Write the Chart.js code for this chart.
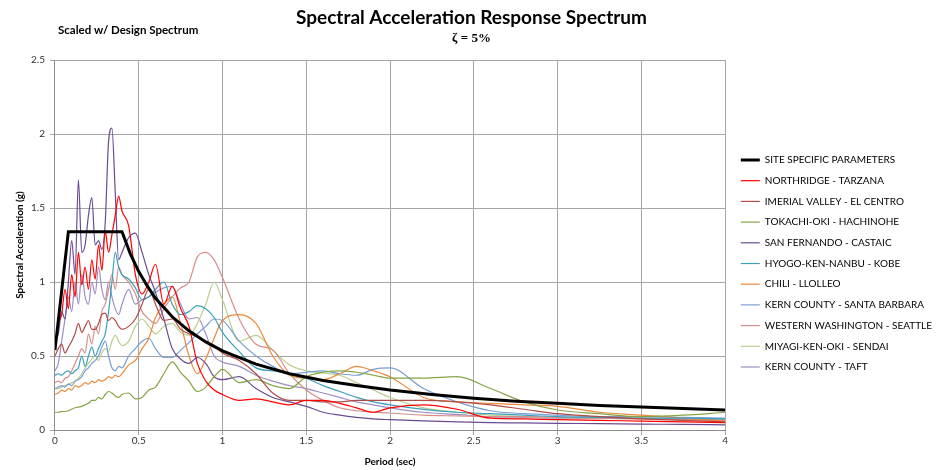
<!DOCTYPE html>
<html>
<head>
<meta charset="utf-8">
<style>
  html, body { margin: 0; padding: 0; background: #ffffff; }
  #wrap { width: 944px; height: 470px; }
</style>
<script src="https://cdn.jsdelivr.net/npm/chart.js@4.4.1/dist/chart.umd.min.js"></script>
</head>
<body>
<div id="wrap"><canvas id="spectrum-chart"></canvas></div>
<script>
// design (site specific) spectrum
const designPeriods = [0, 0.08, 0.40, 0.45, 0.50, 0.55, 0.60, 0.70, 0.80, 0.90, 1.00, 1.20, 1.40, 1.60, 1.80, 2.00, 2.25, 2.50, 2.75, 3.00, 3.25, 3.50, 3.75, 4.00];
const designSa = [0.54, 1.34, 1.34, 1.19, 1.07, 0.975, 0.89, 0.765, 0.67, 0.595, 0.535, 0.445, 0.38, 0.335, 0.30, 0.27, 0.24, 0.215, 0.195, 0.18, 0.165, 0.155, 0.145, 0.135];

// periods shared by the scaled records
const periods = [
  0, 0.02, 0.04, 0.06, 0.08, 0.10, 0.12, 0.14, 0.16, 0.18,
  0.20, 0.22, 0.24, 0.26, 0.28, 0.30, 0.32, 0.34, 0.36, 0.38,
  0.40, 0.44, 0.48, 0.52, 0.56, 0.60, 0.65, 0.70, 0.75, 0.80,
  0.85, 0.90, 0.95, 1.00, 1.10, 1.20, 1.30, 1.40, 1.50, 1.60,
  1.70, 1.80, 1.90, 2.00, 2.20, 2.40, 2.60, 2.80, 3.00, 3.25,
  3.50, 3.75, 4.00
];

const northridge = [
  0.55, 0.72, 0.78, 0.95, 0.82, 1.05, 0.90, 1.20, 0.98, 1.10,
  0.95, 1.15, 1.02, 1.25, 1.08, 1.34, 1.20, 1.32, 1.45, 1.58,
  1.48, 1.38, 1.05, 0.92, 1.00, 1.12, 0.85, 0.97, 0.82, 0.70,
  0.45, 0.33, 0.27, 0.24, 0.20, 0.21, 0.19, 0.17, 0.20, 0.20,
  0.18, 0.15, 0.12, 0.15, 0.17, 0.14, 0.08, 0.075, 0.07, 0.065,
  0.06, 0.055, 0.05
];
const imperialValley = [
  0.50, 0.55, 0.58, 0.52, 0.56, 0.60, 0.65, 0.72, 0.66, 0.70,
  0.74, 0.68, 0.68, 0.72, 0.78, 0.79, 0.74, 0.76, 0.74, 0.70,
  0.68, 0.70, 0.75, 0.85, 0.95, 0.85, 0.74, 0.75, 0.68, 0.65,
  0.63, 0.60, 0.57, 0.52, 0.47, 0.38, 0.25, 0.20, 0.20, 0.19,
  0.19, 0.20, 0.20, 0.20, 0.20, 0.19, 0.17, 0.14, 0.11, 0.09,
  0.075, 0.065, 0.055
];
const tokachiOki = [
  0.12, 0.12, 0.125, 0.125, 0.13, 0.14, 0.15, 0.155, 0.16, 0.17,
  0.18, 0.20, 0.20, 0.22, 0.21, 0.24, 0.26, 0.25, 0.23, 0.22,
  0.24, 0.25, 0.21, 0.22, 0.27, 0.29, 0.38, 0.46, 0.39, 0.33,
  0.26, 0.29, 0.36, 0.41, 0.32, 0.34, 0.30, 0.28, 0.36, 0.39,
  0.40, 0.39, 0.37, 0.35, 0.35, 0.36, 0.28, 0.19, 0.135, 0.11,
  0.09, 0.10, 0.12
];
const sanFernando = [
  0.60, 0.65, 0.80, 0.75, 1.00, 1.28, 1.05, 1.69, 1.20, 1.25,
  1.45, 1.57, 1.25, 1.28, 1.22, 1.40, 1.95, 2.04, 1.60, 1.15,
  1.20, 1.30, 1.33, 1.20, 1.05, 0.93, 0.75, 0.55, 0.48, 0.45,
  0.49, 0.45, 0.36, 0.34, 0.36, 0.28, 0.22, 0.19, 0.16, 0.12,
  0.10, 0.085, 0.075, 0.07, 0.062, 0.055, 0.05, 0.048, 0.045, 0.043,
  0.04, 0.038, 0.035
];
const hyogoKenNanbu = [
  0.37, 0.38, 0.37, 0.39, 0.40, 0.38, 0.40, 0.42, 0.50, 0.43,
  0.50, 0.56, 0.50, 0.55, 0.60, 0.65, 0.80, 1.00, 1.20, 1.10,
  1.05, 1.02, 0.96, 0.88, 0.90, 0.95, 1.00, 0.85, 0.78, 0.80,
  0.84, 0.82, 0.76, 0.66, 0.53, 0.42, 0.40, 0.38, 0.35, 0.30,
  0.26, 0.22, 0.19, 0.17, 0.14, 0.12, 0.11, 0.10, 0.09, 0.085,
  0.08, 0.08, 0.075
];
const chiliLlolleo = [
  0.24, 0.25, 0.27, 0.26, 0.28, 0.27, 0.30, 0.29, 0.30, 0.32,
  0.31, 0.33, 0.32, 0.34, 0.33, 0.34, 0.36, 0.35, 0.37, 0.36,
  0.38, 0.44, 0.47, 0.55, 0.62, 0.76, 0.85, 0.90, 0.72, 0.50,
  0.38, 0.48, 0.62, 0.74, 0.78, 0.72, 0.50, 0.37, 0.35, 0.34,
  0.38, 0.43, 0.40, 0.36, 0.22, 0.19, 0.18, 0.17, 0.16, 0.12,
  0.10, 0.08, 0.06
];
const kernSantaBarbara = [
  0.28, 0.29, 0.30, 0.29, 0.31, 0.30, 0.33, 0.34, 0.36, 0.40,
  0.42, 0.45, 0.47, 0.50, 0.56, 0.60, 0.50, 0.42, 0.40, 0.43,
  0.42, 0.50, 0.55, 0.60, 0.62, 0.55, 0.49, 0.49, 0.54, 0.59,
  0.65, 0.70, 0.75, 0.74, 0.60, 0.50, 0.43, 0.38, 0.39, 0.40,
  0.38, 0.37, 0.41, 0.42, 0.28, 0.19, 0.13, 0.11, 0.10, 0.09,
  0.09, 0.085, 0.08
];
const westernWashington = [
  0.32, 0.33, 0.32, 0.35, 0.36, 0.40, 0.45, 0.50, 0.55, 0.52,
  0.65, 0.58, 0.70, 0.65, 0.80, 0.85, 0.95, 1.05, 0.95, 1.10,
  1.05, 1.00, 0.92, 0.80, 0.75, 0.72, 0.82, 0.90, 0.96, 1.00,
  1.17, 1.20, 1.15, 1.03, 0.75, 0.58, 0.54, 0.38, 0.27, 0.20,
  0.15, 0.13, 0.12, 0.115, 0.10, 0.095, 0.09, 0.09, 0.085, 0.08,
  0.075, 0.07, 0.065
];
const miyagiKenOki = [
  0.28, 0.28, 0.29, 0.30, 0.31, 0.32, 0.33, 0.35, 0.38, 0.42,
  0.45, 0.48, 0.50, 0.47, 0.52, 0.55, 0.53, 0.60, 0.64, 0.60,
  0.57, 0.60, 0.70, 0.75, 0.70, 0.65, 0.70, 0.72, 0.66, 0.64,
  0.72, 0.85, 1.00, 0.88, 0.60, 0.64, 0.54, 0.44, 0.40, 0.385,
  0.37, 0.32, 0.27, 0.22, 0.15, 0.12, 0.10, 0.09, 0.085, 0.08,
  0.075, 0.07, 0.065
];
const kernTaft = [
  0.40, 0.45, 0.60, 0.75, 0.90, 0.80, 1.00, 0.85, 1.05, 0.90,
  0.85, 1.00, 0.92, 1.10, 0.95, 0.88, 1.00, 0.90, 0.82, 0.78,
  0.85, 0.95, 0.85, 0.88, 0.90, 0.93, 0.96, 0.97, 0.85, 0.75,
  0.76, 0.65, 0.50, 0.46, 0.43, 0.37, 0.33, 0.30, 0.28, 0.25,
  0.22, 0.19, 0.17, 0.15, 0.12, 0.105, 0.09, 0.085, 0.08, 0.08,
  0.078, 0.075, 0.07
];

const recordNames = [
  'NORTHRIDGE - TARZANA',
  'IMERIAL VALLEY - EL CENTRO',
  'TOKACHI-OKI - HACHINOHE',
  'SAN FERNANDO - CASTAIC',
  'HYOGO-KEN-NANBU - KOBE',
  'CHILI - LLOLLEO',
  'KERN COUNTY - SANTA BARBARA',
  'WESTERN WASHINGTON - SEATTLE',
  'MIYAGI-KEN-OKI - SENDAI',
  'KERN COUNTY - TAFT',
];
const recordValues = [
  northridge, imperialValley, tokachiOki, sanFernando, hyogoKenNanbu,
  chiliLlolleo, kernSantaBarbara, westernWashington, miyagiKenOki, kernTaft,
];
const recordColors = [
  '#ff0000', '#b04c48', '#86a445', '#6a4c93', '#3d9fba',
  '#eb8a3c', '#7a9ed4', '#d58e8d', '#b8d08e', '#9d8ec2',
];

function toPoints(xs, ys) {
  return xs.map((x, i) => ({ x, y: ys[i] }));
}

function plainTick(value) {
  return String(value);
}

Chart.defaults.font.family = "Lato, 'Open Sans', sans-serif";
Chart.defaults.font.size = 10;
Chart.defaults.color = '#000000';

const gridColor = '#a6a6a6';

const cornerNote = {
  id: 'cornerNote',
  afterDraw(chart) {
    const { ctx } = chart;
    ctx.save();
    ctx.font = "bold 11.5px Lato, 'Open Sans', sans-serif";
    ctx.fillStyle = '#000000';
    ctx.textBaseline = 'middle';
    ctx.fillText('Scaled w/ Design Spectrum', 58, 30);
    ctx.restore();
  },
};

const datasets = [
  {
    label: 'SITE SPECIFIC PARAMETERS',
    data: toPoints(designPeriods, designSa),
    borderColor: '#000000',
    backgroundColor: '#000000',
    borderWidth: 3,
    pointRadius: 0,
    tension: 0,
    yAxisID: 'y',
  },
  ...recordValues.map((values, i) => ({
    label: recordNames[i],
    data: toPoints(periods, values),
    borderColor: recordColors[i],
    backgroundColor: recordColors[i],
    borderWidth: 1.2,
    pointRadius: 0,
    cubicInterpolationMode: 'monotone',
    yAxisID: 'y',
  })),
];

new Chart(document.getElementById('spectrum-chart'), {
  type: 'line',
  data: { datasets },
  options: {
    responsive: true,
    maintainAspectRatio: false,
    animation: false,
    layout: {
      padding: { left: 1, right: 2 },
    },
    plugins: {
      title: {
        display: true,
        text: 'Spectral Acceleration Response Spectrum',
        color: '#000000',
        font: { size: 19, weight: 'bold' },
        padding: { top: 6, bottom: 2 },
      },
      subtitle: {
        display: true,
        text: 'ζ = 5%',
        color: '#000000',
        font: { family: "'Liberation Serif', serif", size: 13, weight: 'bold' },
        padding: { top: 0, bottom: 13.6 },
      },
      legend: {
        position: 'right',
        align: 'center',
        maxWidth: 240,
        title: {
          display: true,
          text: '',
          font: { size: 10 },
          padding: { top: 0, bottom: 45 },
        },
        labels: {
          usePointStyle: true,
          pointStyle: 'line',
          pointStyleWidth: 19,
          padding: 10.7,
          color: '#000000',
          font: { size: 10 },
        },
      },
      tooltip: { enabled: false },
    },
    scales: {
      x: {
        type: 'linear',
        min: 0,
        max: 4,
        ticks: { stepSize: 0.5, padding: 0, color: '#333333', callback: plainTick },
        grid: { color: gridColor, tickLength: 5 },
        border: { color: '#8c8c8c' },
        title: {
          display: true,
          text: 'Period (sec)',
          font: { size: 10, weight: 'bold' },
          padding: { top: 9, bottom: 2 },
        },
      },
      y: {
        type: 'linear',
        min: 0,
        max: 2.5,
        ticks: { stepSize: 0.5, padding: 5, color: '#333333', callback: plainTick },
        grid: { color: gridColor, tickLength: 5 },
        border: { color: '#8c8c8c' },
        title: {
          display: true,
          text: 'Spectral Acceleration (g)',
          font: { size: 10, weight: 'bold' },
          padding: { top: 13, bottom: 0 },
        },
      },
      legendGap: {
        axis: 'y',
        position: 'right',
        display: true,
        grid: { display: false },
        border: { display: false },
        ticks: { display: false },
        afterFit(scale) {
          scale.width = 5;
        },
      },
    },
  },
  plugins: [cornerNote],
});
</script>
</body>
</html>
